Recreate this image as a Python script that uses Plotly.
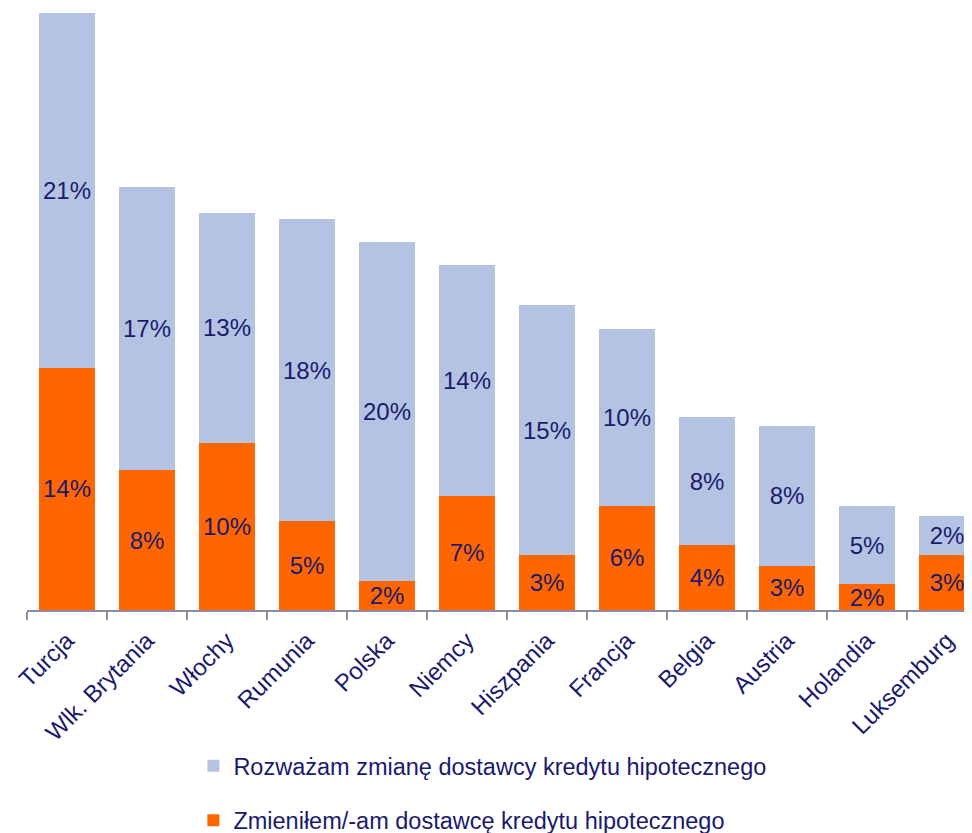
import plotly.graph_objects as go

countries = ["Turcja", "Wlk. Brytania", "Włochy", "Rumunia", "Polska", "Niemcy",
             "Hiszpania", "Francja", "Belgia", "Austria", "Holandia", "Luksemburg"]

switched = [14.2, 8.2, 9.8, 5.2, 1.7, 6.7, 3.2, 6.1, 3.8, 2.6, 1.5, 3.2]
considering = [20.8, 16.6, 13.5, 17.7, 19.9, 13.5, 14.7, 10.4, 7.5, 8.2, 4.6, 2.3]

switched_labels = ["14%", "8%", "10%", "5%", "2%", "7%", "3%", "6%", "4%", "3%", "2%", "3%"]
considering_labels = ["21%", "17%", "13%", "18%", "20%", "14%", "15%", "10%", "8%", "8%", "5%", "2%"]

ORANGE = "#FF6600"
LIGHT_BLUE = "#B4C3E2"
NAVY = "#1A1A6E"
AXIS_GREY = "#8C8CA0"
FONT = "Liberation Sans, Arial, sans-serif"

# page body has an 8px margin, so the figure is sized to end at the window edge
W, H = 964, 825

fig = go.Figure()
fig.add_trace(go.Bar(
    x=countries, y=switched, name="Zmieniłem/-am dostawcę kredytu hipotecznego",
    marker=dict(color=ORANGE, line=dict(width=0)),
    text=switched_labels, textposition="inside", insidetextanchor="middle",
    textangle=0, constraintext="none", textfont=dict(color=NAVY, size=24),
    legendgroup="a", legendrank=2,
))
fig.add_trace(go.Bar(
    x=countries, y=considering, name="Rozważam zmianę dostawcy kredytu hipotecznego",
    marker=dict(color=LIGHT_BLUE, line=dict(width=0)),
    text=considering_labels, textposition="inside", insidetextanchor="middle",
    textangle=0, constraintext="none", textfont=dict(color=NAVY, size=24),
    legendgroup="b", legendrank=1,
))

fig.update_layout(
    barmode="stack",
    bargap=0.31,
    width=W,
    height=H,
    margin=dict(l=19, r=0, t=0, b=223, autoexpand=False),
    paper_bgcolor="white",
    plot_bgcolor="white",
    font=dict(family=FONT, size=24, color=NAVY),
    uniformtext=dict(minsize=24, mode="show"),
    xaxis=dict(
        range=[-0.5, 11.3125],
        tickangle=-45,
        tickson="boundaries",
        ticks="outside",
        ticklen=8,
        tickwidth=2,
        tickcolor=AXIS_GREY,
        ticklabelstandoff=5,
        showline=True,
        linecolor=AXIS_GREY,
        linewidth=2,
        showgrid=False,
        automargin=False,
        tickfont=dict(size=24, color=NAVY),
    ),
    yaxis=dict(
        range=[0, 35.29],
        visible=False,
        showgrid=False,
    ),
    legend=dict(
        xref="container", yref="container",
        x=0.1923, y=0.1079, xanchor="left", yanchor="top",
        traceorder="grouped",
        tracegroupgap=21,
        font=dict(size=23.5, color=NAVY),
    ),
)

fig.write_html("out.html")
